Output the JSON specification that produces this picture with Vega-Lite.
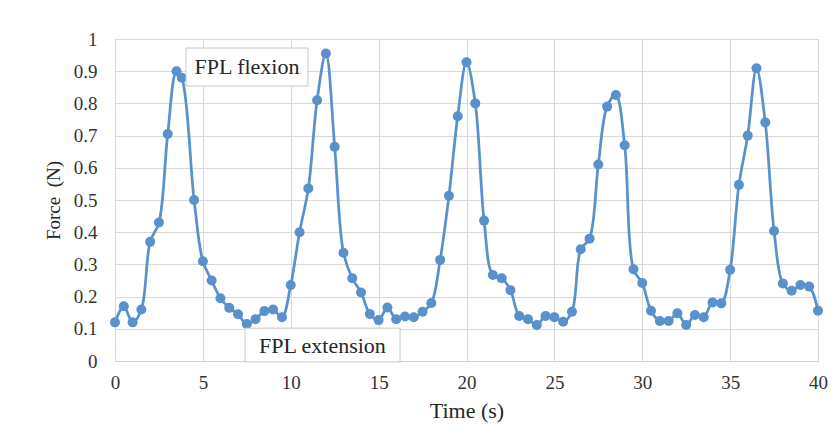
{
  "$schema": "https://vega.github.io/schema/vega-lite/v6.json",
  "autosize": "none",
  "width": 703,
  "height": 322,
  "padding": {"left": 115, "top": 39, "right": 21, "bottom": 87},
  "background": "white",
  "config": {
    "view": {"stroke": "#d9d9d9", "strokeWidth": 1},
    "font": "Liberation Serif, serif",
    "axis": {
      "labelFont": "Liberation Serif, serif", "titleFont": "Liberation Serif, serif",
      "grid": true, "gridColor": "#d9d9d9", "ticks": false, "labelFontSize": 19,
      "labelColor": "#333333", "titleFontWeight": "normal", "titleColor": "#262626",
      "tickCount": 30, "labelOverlap": false
    },
    "axisX": {"labelFlush": false, "domainColor": "#d0d0d0", "labelPadding": 12, "titleFontSize": 22, "titlePadding": 8},
    "axisY": {"domain": false, "labelPadding": 18, "titleFontSize": 19, "titlePadding": 10},
    "text": {"font": "Liberation Serif, serif"}
  },
  "datasets": {
    "force": [
      {"t": 0, "f": 0.12}, {"t": 0.5, "f": 0.17}, {"t": 1, "f": 0.12}, {"t": 1.5, "f": 0.16},
      {"t": 2, "f": 0.37}, {"t": 2.5, "f": 0.43}, {"t": 3, "f": 0.705}, {"t": 3.5, "f": 0.9},
      {"t": 3.8, "f": 0.88}, {"t": 4.5, "f": 0.5}, {"t": 5, "f": 0.31}, {"t": 5.5, "f": 0.25},
      {"t": 6, "f": 0.195}, {"t": 6.5, "f": 0.165}, {"t": 7, "f": 0.145}, {"t": 7.5, "f": 0.115},
      {"t": 8, "f": 0.13}, {"t": 8.5, "f": 0.155}, {"t": 9, "f": 0.16}, {"t": 9.5, "f": 0.136},
      {"t": 10, "f": 0.236}, {"t": 10.5, "f": 0.4}, {"t": 11, "f": 0.536}, {"t": 11.5, "f": 0.81},
      {"t": 12, "f": 0.955}, {"t": 12.5, "f": 0.665}, {"t": 13, "f": 0.336}, {"t": 13.5, "f": 0.257},
      {"t": 14, "f": 0.213}, {"t": 14.5, "f": 0.146}, {"t": 15, "f": 0.127}, {"t": 15.5, "f": 0.166},
      {"t": 16, "f": 0.13}, {"t": 16.5, "f": 0.138}, {"t": 17, "f": 0.136}, {"t": 17.5, "f": 0.153},
      {"t": 18, "f": 0.18}, {"t": 18.5, "f": 0.314}, {"t": 19, "f": 0.513}, {"t": 19.5, "f": 0.76},
      {"t": 20, "f": 0.928}, {"t": 20.5, "f": 0.8}, {"t": 21, "f": 0.436}, {"t": 21.5, "f": 0.267},
      {"t": 22, "f": 0.257}, {"t": 22.5, "f": 0.22}, {"t": 23, "f": 0.14}, {"t": 23.5, "f": 0.13},
      {"t": 24, "f": 0.112}, {"t": 24.5, "f": 0.14}, {"t": 25, "f": 0.136}, {"t": 25.5, "f": 0.122},
      {"t": 26, "f": 0.153}, {"t": 26.5, "f": 0.347}, {"t": 27, "f": 0.38}, {"t": 27.5, "f": 0.61},
      {"t": 28, "f": 0.79}, {"t": 28.5, "f": 0.826}, {"t": 29, "f": 0.67}, {"t": 29.5, "f": 0.285},
      {"t": 30, "f": 0.242}, {"t": 30.5, "f": 0.156}, {"t": 31, "f": 0.124}, {"t": 31.5, "f": 0.124},
      {"t": 32, "f": 0.148}, {"t": 32.5, "f": 0.112}, {"t": 33, "f": 0.143}, {"t": 33.5, "f": 0.136},
      {"t": 34, "f": 0.182}, {"t": 34.5, "f": 0.179}, {"t": 35, "f": 0.283}, {"t": 35.5, "f": 0.547},
      {"t": 36, "f": 0.7}, {"t": 36.5, "f": 0.909}, {"t": 37, "f": 0.741}, {"t": 37.5, "f": 0.404},
      {"t": 38, "f": 0.241}, {"t": 38.5, "f": 0.218}, {"t": 39, "f": 0.236}, {"t": 39.5, "f": 0.231},
      {"t": 40, "f": 0.156}
    ],
    "notes": [
      {"label": "FPL flexion", "x1": 4.04, "x2": 10.98, "y1": 0.854, "y2": 0.972, "tx": 7.51, "ty": 0.913},
      {"label": "FPL extension", "x1": 7.4, "x2": 16.22, "y1": -0.003, "y2": 0.102, "tx": 11.8, "ty": 0.046}
    ]
  },
  "layer": [
    {
      "data": {"name": "force"},
      "mark": {"type": "line", "interpolate": "catmull-rom", "color": "#5a91cd", "strokeWidth": 2.75},
      "encoding": {
        "x": {
          "field": "t", "type": "quantitative",
          "scale": {"domain": [0, 40], "nice": false},
          "axis": {"title": "Time (s)", "values": [0, 5, 10, 15, 20, 25, 30, 35, 40], "tickCount": 30, "labelFont": "Liberation Serif, serif"}
        },
        "y": {
          "field": "f", "type": "quantitative",
          "scale": {"domain": [0, 1], "nice": false},
          "axis": {"title": "Force\u00a0 (N)", "values": [0, 0.1, 0.2, 0.3, 0.4, 0.5, 0.6, 0.7, 0.8, 0.9, 1], "format": "~g", "tickCount": 30, "labelFont": "Liberation Serif, serif"}
        }
      }
    },
    {
      "data": {"name": "force"},
      "mark": {"type": "point", "filled": true, "opacity": 1, "color": "#5a91cd", "size": 100},
      "encoding": {
        "x": {"field": "t", "type": "quantitative", "axis": {"title": "Time (s)", "values": [0, 5, 10, 15, 20, 25, 30, 35, 40], "tickCount": 30, "labelFont": "Liberation Serif, serif"}},
        "y": {"field": "f", "type": "quantitative", "axis": {"title": "Force\u00a0 (N)", "values": [0, 0.1, 0.2, 0.3, 0.4, 0.5, 0.6, 0.7, 0.8, 0.9, 1], "format": "~g", "tickCount": 30, "labelFont": "Liberation Serif, serif"}}
      }
    },
    {
      "data": {"name": "notes"},
      "mark": {"type": "rect", "fill": "white", "stroke": "#c8c8c8", "strokeWidth": 1, "clip": false},
      "encoding": {
        "x": {"field": "x1", "type": "quantitative", "axis": {"title": "Time (s)", "values": [0, 5, 10, 15, 20, 25, 30, 35, 40], "tickCount": 30, "labelFont": "Liberation Serif, serif"}},
        "x2": {"field": "x2"},
        "y": {"field": "y1", "type": "quantitative", "axis": {"title": "Force\u00a0 (N)", "values": [0, 0.1, 0.2, 0.3, 0.4, 0.5, 0.6, 0.7, 0.8, 0.9, 1], "format": "~g", "tickCount": 30, "labelFont": "Liberation Serif, serif"}},
        "y2": {"field": "y2"}
      }
    },
    {
      "data": {"name": "notes"},
      "mark": {"type": "text", "font": "Liberation Serif, serif", "fontSize": 22, "color": "#262626", "align": "center", "baseline": "middle"},
      "encoding": {
        "x": {"field": "tx", "type": "quantitative", "axis": {"title": "Time (s)", "values": [0, 5, 10, 15, 20, 25, 30, 35, 40], "tickCount": 30, "labelFont": "Liberation Serif, serif"}},
        "y": {"field": "ty", "type": "quantitative", "axis": {"title": "Force\u00a0 (N)", "values": [0, 0.1, 0.2, 0.3, 0.4, 0.5, 0.6, 0.7, 0.8, 0.9, 1], "format": "~g", "tickCount": 30, "labelFont": "Liberation Serif, serif"}},
        "text": {"field": "label"}
      }
    }
  ]
}
